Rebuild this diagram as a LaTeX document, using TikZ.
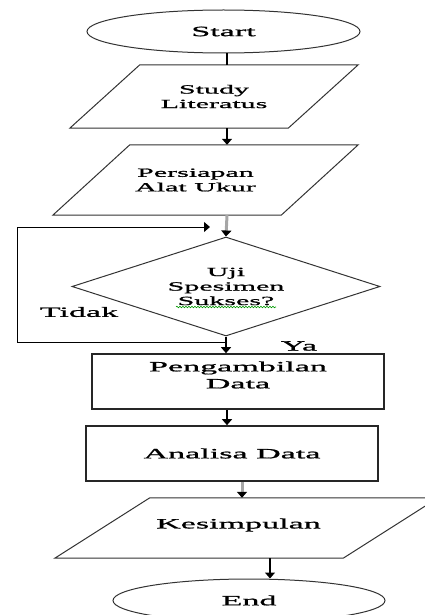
\documentclass[tikz,border=0pt]{standalone}
\usepackage{fontspec}
\setmainfont{Liberation Serif}[FakeStretch=2.4, FakeBold=1.2]
\usepackage{tikz}
\usetikzlibrary{shapes.geometric, arrows.meta, decorations.pathmorphing}

\newcommand{\flowbig}{\fontsize{14.2}{17}\selectfont}
\newcommand{\flowsmall}{\fontsize{12.5}{14.5}\selectfont}

\tikzset{
    terminal/.style={draw=black!80, ellipse, line width=1pt, inner sep=0pt, font=\flowbig},
    io/.style={rectangle, inner sep=0pt, align=center, font=\flowsmall,
        append after command={\pgfextra{\draw[black!80, line width=1pt]
            ([xshift={#1/2}]\tikzlastnode.north west) -- ([xshift={#1/2}]\tikzlastnode.north east)
            -- ([xshift={-#1/2}]\tikzlastnode.south east) -- ([xshift={-#1/2}]\tikzlastnode.south west) -- cycle;}}},
    decision/.style={draw=black!80, diamond, shape aspect=3.1, line width=1pt, inner sep=0pt,
        align=center, font=\flowsmall},
    process/.style={draw=black!85, rectangle, line width=1.6pt, inner sep=0pt, align=center, font=\flowbig},
    flow/.style={line width=1.2pt, -{Triangle[width=10pt, length=6pt]}},
    thickflow/.style={line width=3pt, gray!70, -{Triangle[width=10pt, length=6pt, black]}},
}

\begin{document}
\begin{tikzpicture}[x=1pt, y=-1pt]
    \useasboundingbox (0, 0) rectangle (425, 615);
    \clip (0, 0) rectangle (425, 615);

    \node[terminal, minimum width=273pt, minimum height=43pt] at (223.5, 31.5) (start) {Start};
    \node[io=70, minimum width=218pt, minimum height=63pt] at (214, 96.5) (study) {Study\\Literatus};
    \node[io=77, minimum width=228pt, minimum height=70pt,
        label={[align=center, font=\flowsmall, xshift=-10pt]center:Persiapan\\Alat Ukur}] at (205.5, 180) (persiapan) {};
    \node[decision, minimum width=308pt, minimum height=99pt] at (226, 286.5) (uji) {Uji\\Spesimen\\Sukses?};
    \node[process, minimum width=292pt, minimum height=55pt,
        label={[align=center, font=\flowbig, yshift=6.5pt]center:Pengambilan\\Data}] at (238, 381.5) (ambil) {};
    \node[process, minimum width=292pt, minimum height=55pt] at (232, 453.5) (analisa) {Analisa Data};
    \node[io=95, minimum width=288pt, minimum height=60pt,
        label={[font=\flowbig, xshift=-8pt, yshift=3pt]center:Kesimpulan}] at (246.5, 528) (kesimpulan) {};
    \node[terminal, minimum width=272pt, minimum height=43pt] at (249, 600.5) (end) {End};

    \node[font=\flowbig] at (79, 312) (tidak) {Tidak};
    \node[font=\flowbig] at (299, 346) (ya) {Ya};

    % columns of the connectors
    \coordinate (c1) at (227, 0);
    \coordinate (c2) at (242, 0);
    \coordinate (c3) at (270, 0);
    \coordinate (branch) at (227, 342);
    \coordinate (corner) at (17, 342);
    \coordinate (back) at (210, 227);

    \draw[line width=1.6pt] (start.south -| c1) -- (study.north -| c1);
    \draw[flow] (study.south -| c1) -- (persiapan.north -| c1);
    \draw[thickflow] (persiapan.south -| c1) -- (uji.north);
    \draw[flow] (uji.south) -- (ambil.north -| uji.south);
    \draw[flow] (ambil.south -| c1) -- (analisa.north -| c1);
    \draw[thickflow] (analisa.south -| c2) -- (kesimpulan.north -| c2);
    \draw[flow] (kesimpulan.south -| c3) -- (end.north -| c3);

    % loop back when not successful
    \draw[flow, line width=1pt] (branch) -- (corner) |- (back);

    % spell check underline
    \draw[green!60!black, line width=0.6pt, decorate, decoration={snake, amplitude=0.8pt, segment length=3pt}]
        (176, 307) -- (276, 307);
\end{tikzpicture}
\end{document}
